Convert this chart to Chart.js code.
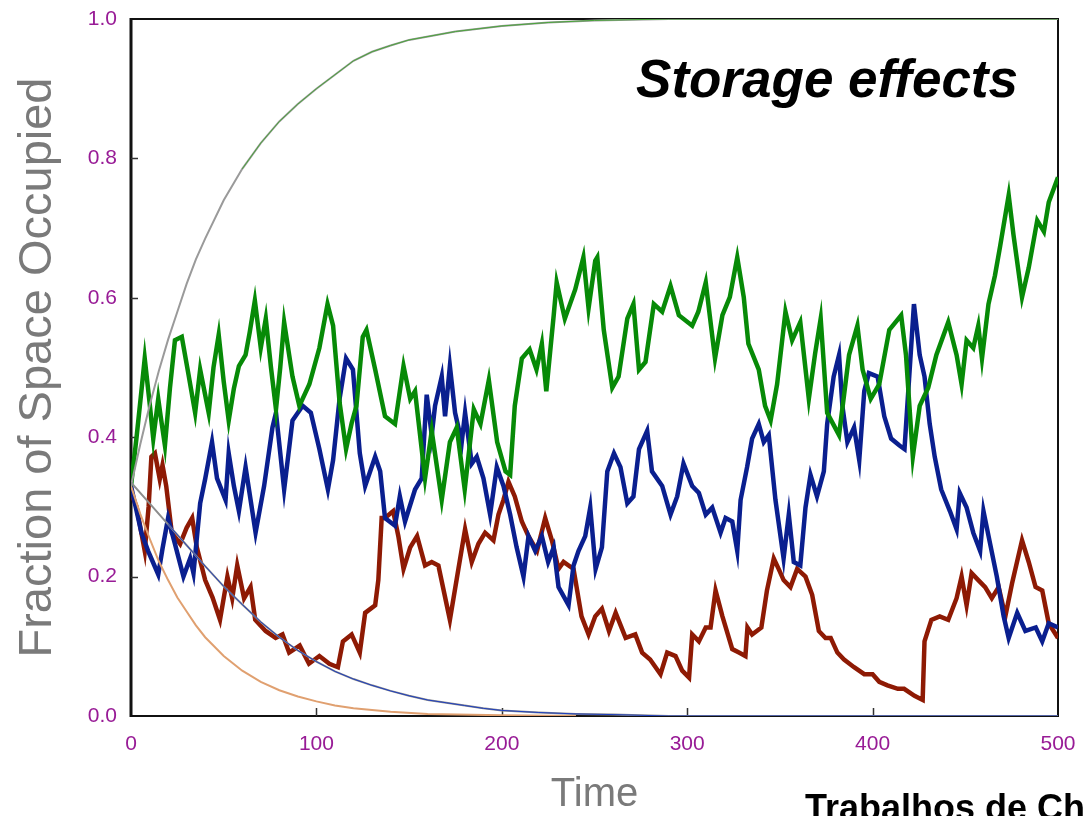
<!DOCTYPE html>
<html>
<head>
<meta charset="utf-8">
<script src="https://cdn.jsdelivr.net/npm/chart.js@4.4.1/dist/chart.umd.min.js"></script>
<style>
html, body { margin: 0; padding: 0; background: #fff; overflow: hidden; }
</style>
</head>
<body>
<canvas id="storageChart" width="1083" height="816"></canvas>
<script>
// axis ticks
const xTicks = [0, 100, 200, 300, 400, 500];
const yTicks = [0, 0.2, 0.4, 0.6, 0.8, 1.0];

// stochastic runs (time, fraction)
const greenT = [0, 3, 5.6, 7.4, 10, 12, 14.7, 16, 18.3, 21, 23.7, 27.4, 31, 34.6, 37.3, 41.9, 44.5, 47.3, 50, 52.7, 55.5, 58.2, 61.8, 64, 66.8, 70, 72.7, 75.5, 78.2, 80.5, 82.6, 87.1, 90.8, 96.2, 101.6, 106, 109, 112.5, 116, 119, 121.6, 125, 127, 131.7, 137, 142.4, 147, 150.6, 153.2, 158.6, 162.2, 167.6, 172, 175.7, 180, 184.9, 188.5, 193, 197.5, 202, 204.5, 207, 210.8, 215, 218.7, 221.6, 224, 228, 229.6, 234, 239.6, 244, 246.8, 250.4, 251.5, 255, 259.6, 263, 267.7, 271, 274, 277.5, 282, 286.5, 291, 295.5, 302.7, 306, 310, 315, 319, 323, 327, 330.5, 333, 338.6, 342, 345, 348.5, 353, 356.6, 361, 365.6, 369, 372, 375.5, 381.9, 387.3, 391.8, 394.6, 399, 403.6, 409, 415.4, 418, 421.7, 425.4, 430, 434.4, 440.8, 445.3, 448, 450.7, 454.3, 457, 459, 462.5, 466, 468.8, 473.4, 476, 480.6, 484.2, 488.8, 492.4, 495, 500];
const greenV = [0.33, 0.40, 0.466, 0.513, 0.45, 0.398, 0.455, 0.43, 0.388, 0.47, 0.539, 0.544, 0.49, 0.435, 0.497, 0.435, 0.5, 0.547, 0.48, 0.424, 0.47, 0.502, 0.518, 0.55, 0.596, 0.528, 0.57, 0.5, 0.44, 0.5, 0.565, 0.487, 0.445, 0.476, 0.528, 0.591, 0.56, 0.45, 0.383, 0.42, 0.445, 0.544, 0.554, 0.497, 0.43, 0.419, 0.502, 0.455, 0.466, 0.341, 0.409, 0.31, 0.393, 0.414, 0.325, 0.44, 0.419, 0.482, 0.393, 0.351, 0.346, 0.445, 0.513, 0.526, 0.497, 0.534, 0.466, 0.575, 0.622, 0.57, 0.612, 0.658, 0.585, 0.653, 0.658, 0.554, 0.471, 0.487, 0.57, 0.591, 0.497, 0.508, 0.591, 0.58, 0.617, 0.575, 0.56, 0.58, 0.622, 0.513, 0.575, 0.601, 0.658, 0.601, 0.534, 0.497, 0.445, 0.424, 0.476, 0.58, 0.539, 0.565, 0.455, 0.52, 0.57, 0.435, 0.403, 0.518, 0.56, 0.497, 0.455, 0.476, 0.554, 0.575, 0.518, 0.372, 0.445, 0.471, 0.518, 0.565, 0.518, 0.476, 0.539, 0.528, 0.56, 0.513, 0.591, 0.632, 0.674, 0.747, 0.69, 0.601, 0.643, 0.711, 0.695, 0.737, 0.773];

const blueT = [0, 5.6, 9.2, 14.7, 17, 20, 23.7, 28.3, 31.9, 33.7, 37.3, 40, 43.7, 46.4, 51, 52.7, 55.5, 58.2, 61.8, 64.5, 67.2, 71.8, 76.3, 78.2, 82.6, 87.1, 92.6, 97, 101.6, 106.2, 109, 112.5, 116, 119.7, 123.4, 126.3, 131.7, 134.4, 137, 142.4, 145, 147.8, 153.2, 156.8, 159.5, 162.2, 164, 167.6, 169.4, 172, 174.8, 178.4, 180.2, 183.8, 186.5, 190.1, 193.7, 197.3, 200.9, 204.5, 208, 211.7, 214.4, 218, 221.6, 225, 228, 230.6, 236, 238.7, 241.4, 245, 247.7, 250.6, 254, 256.9, 260.5, 264, 267.7, 271, 274, 278.4, 281, 286.5, 291, 294.6, 298, 302.7, 306.3, 310, 313.5, 318, 320.7, 324.3, 327, 328.8, 332.3, 335, 338.6, 341.3, 344, 347.6, 352, 354.8, 357.5, 361, 363.8, 366.5, 370, 373.7, 375.5, 379, 381.9, 383.7, 386.4, 390, 392.8, 395.5, 398, 402.7, 406.3, 410, 414.5, 417.2, 420, 422.3, 425.4, 428, 430.8, 433.5, 437, 441.7, 445.3, 447, 450.7, 454.3, 458, 459.8, 463.4, 467, 470.7, 473.4, 478, 482.4, 488, 491.5, 495, 500];
const blueV = [0.33, 0.263, 0.237, 0.203, 0.24, 0.284, 0.247, 0.2, 0.226, 0.205, 0.305, 0.34, 0.393, 0.341, 0.31, 0.377, 0.33, 0.294, 0.357, 0.31, 0.263, 0.33, 0.414, 0.435, 0.325, 0.424, 0.445, 0.435, 0.383, 0.325, 0.367, 0.455, 0.513, 0.497, 0.377, 0.33, 0.372, 0.351, 0.284, 0.273, 0.315, 0.279, 0.325, 0.341, 0.461, 0.403, 0.445, 0.487, 0.43, 0.502, 0.435, 0.393, 0.435, 0.362, 0.372, 0.341, 0.289, 0.357, 0.33, 0.289, 0.242, 0.2, 0.258, 0.237, 0.258, 0.221, 0.242, 0.185, 0.159, 0.216, 0.237, 0.258, 0.299, 0.211, 0.242, 0.351, 0.377, 0.357, 0.305, 0.315, 0.383, 0.409, 0.351, 0.33, 0.289, 0.315, 0.362, 0.33, 0.32, 0.289, 0.299, 0.263, 0.284, 0.279, 0.237, 0.31, 0.357, 0.398, 0.419, 0.393, 0.403, 0.31, 0.226, 0.289, 0.221, 0.216, 0.299, 0.346, 0.315, 0.351, 0.419, 0.487, 0.518, 0.445, 0.393, 0.414, 0.367, 0.466, 0.492, 0.487, 0.43, 0.398, 0.388, 0.383, 0.497, 0.591, 0.518, 0.487, 0.419, 0.372, 0.325, 0.294, 0.268, 0.32, 0.299, 0.263, 0.237, 0.294, 0.247, 0.2, 0.143, 0.112, 0.148, 0.122, 0.127, 0.107, 0.133, 0.127];

const redT = [0, 3, 7.4, 9.5, 11, 12.9, 15.5, 17, 19, 22, 26.5, 30, 33, 35.5, 40, 44, 48, 52, 54.6, 57.3, 61, 64.5, 67, 72.6, 78, 81.7, 85.3, 91, 96, 101.6, 107, 111.6, 114.3, 119, 123.4, 126.3, 131.7, 133.4, 135.2, 137, 141.4, 144.2, 147, 150.6, 154.3, 158.6, 162.2, 165.8, 172, 176.6, 180.2, 183.8, 187.4, 191, 195.5, 198.2, 200.9, 203.6, 207, 210.8, 214.4, 219, 223.4, 227, 230.6, 233.3, 238.7, 243, 246.8, 250.4, 254, 257.8, 261.4, 266.8, 272, 275.7, 280, 285.6, 289.2, 293.7, 297.3, 301, 302.7, 306.3, 310, 312.6, 315.3, 319, 324.3, 327.9, 331.4, 332.5, 335, 340, 343, 346.7, 349.5, 352, 355.7, 359.3, 363.8, 367.4, 371, 374.6, 377.4, 381, 384.6, 390, 395.5, 400, 403.6, 408, 413.6, 417, 422.6, 427, 428, 431.7, 436.2, 440.8, 445.3, 448, 450.7, 453.4, 457, 460.7, 464.3, 468, 471.6, 475.2, 480.6, 484.2, 487.9, 491.5, 495, 500];
const redV = [0.32, 0.3, 0.237, 0.3, 0.372, 0.377, 0.34, 0.36, 0.33, 0.263, 0.247, 0.27, 0.284, 0.242, 0.195, 0.17, 0.138, 0.2, 0.169, 0.216, 0.169, 0.185, 0.138, 0.122, 0.112, 0.117, 0.091, 0.101, 0.075, 0.086, 0.075, 0.07, 0.107, 0.117, 0.091, 0.148, 0.159, 0.195, 0.284, 0.284, 0.294, 0.258, 0.211, 0.242, 0.258, 0.216, 0.221, 0.216, 0.138, 0.211, 0.268, 0.221, 0.247, 0.263, 0.252, 0.289, 0.31, 0.336, 0.315, 0.279, 0.258, 0.237, 0.284, 0.252, 0.211, 0.221, 0.211, 0.143, 0.117, 0.143, 0.154, 0.122, 0.148, 0.112, 0.117, 0.091, 0.081, 0.06, 0.091, 0.086, 0.065, 0.055, 0.117, 0.107, 0.127, 0.127, 0.18, 0.143, 0.096, 0.091, 0.086, 0.127, 0.117, 0.127, 0.18, 0.226, 0.21, 0.195, 0.185, 0.211, 0.2, 0.174, 0.122, 0.112, 0.112, 0.091, 0.081, 0.07, 0.06, 0.06, 0.049, 0.044, 0.039, 0.039, 0.029, 0.023, 0.107, 0.138, 0.143, 0.138, 0.169, 0.2, 0.159, 0.205, 0.195, 0.185, 0.169, 0.185, 0.143, 0.19, 0.252, 0.221, 0.185, 0.18, 0.133, 0.112];

// deterministic curves
const riseT = [0, 5, 10, 15, 20, 25, 30, 35, 40, 50, 60, 70, 80, 90, 100, 110, 120, 130, 140, 150, 175, 200, 225, 250, 290, 500];
const riseV = [0.33, 0.39, 0.445, 0.495, 0.54, 0.58, 0.62, 0.655, 0.685, 0.74, 0.785, 0.822, 0.853, 0.878, 0.9, 0.92, 0.94, 0.953, 0.962, 0.97, 0.982, 0.99, 0.995, 0.998, 1.0, 1.0];
const decayT = [0, 10, 20, 30, 40, 50, 60, 70, 80, 90, 100, 110, 120, 130, 140, 150, 160, 170, 180, 190, 200, 220, 240, 260, 290, 500];
const decayV = [0.335, 0.305, 0.275, 0.245, 0.215, 0.186, 0.16, 0.135, 0.113, 0.094, 0.078, 0.064, 0.053, 0.044, 0.036, 0.029, 0.023, 0.019, 0.015, 0.011, 0.008, 0.005, 0.003, 0.002, 0, 0];
const fastT = [0, 5, 10, 15, 20, 25, 30, 35, 40, 50, 60, 70, 80, 90, 100, 110, 120, 140, 160, 200, 240];
const fastV = [0.33, 0.29, 0.255, 0.222, 0.195, 0.17, 0.15, 0.13, 0.113, 0.086, 0.065, 0.049, 0.037, 0.028, 0.021, 0.015, 0.011, 0.006, 0.003, 0.001, 0];

const pts = (ts, vs) => ts.map((t, i) => ({ x: t, y: vs[i] }));
const fromT = (ts, vs, t0) => pts(ts, vs).filter(p => p.x >= t0);

const line = (data, color, width) => ({
    data: data,
    borderColor: color,
    borderWidth: width,
    pointRadius: 0,
    tension: 0,
    fill: false
});

// keep the frame where the picture has it, whatever the tick labels need
const noEdgePadding = s => {
    s.paddingTop = 0;
    s.paddingBottom = 0;
    s.paddingLeft = 0;
    s.paddingRight = 0;
};

const framePlugin = {
    id: 'frame',
    beforeDatasetsDraw(chart) {
        const { ctx, chartArea: a, scales } = chart;
        ctx.save();
        ctx.strokeStyle = '#111';
        ctx.lineWidth = 2;
        ctx.strokeRect(a.left, a.top, a.right - a.left, a.bottom - a.top);
        ctx.lineWidth = 3;
        ctx.beginPath();
        ctx.moveTo(a.left, a.top - 1);
        ctx.lineTo(a.left, a.bottom + 1);
        ctx.stroke();
        ctx.lineWidth = 1.5;
        ctx.strokeStyle = '#333';
        ctx.beginPath();
        xTicks.slice(1, -1).forEach(v => {
            const px = Math.round(scales.x.getPixelForValue(v)) + 0.5;
            ctx.moveTo(px, a.bottom);
            ctx.lineTo(px, a.bottom - 8);
        });
        yTicks.slice(1, -1).forEach(v => {
            const py = Math.round(scales.y.getPixelForValue(v)) + 0.5;
            ctx.moveTo(a.left, py);
            ctx.lineTo(a.left + 7, py);
        });
        ctx.stroke();
        ctx.restore();
    },
    afterDraw(chart) {
        const ctx = chart.ctx;
        ctx.save();
        ctx.fillStyle = '#000';
        ctx.textAlign = 'right';
        ctx.textBaseline = 'alphabetic';
        ctx.font = 'italic bold 53px "Liberation Sans", Arial, sans-serif';
        ctx.fillText('Storage effects', 1018, 97);
        ctx.textAlign = 'left';
        ctx.font = 'bold 36px "Liberation Sans", Arial, sans-serif';
        ctx.fillText('Trabalhos de Ch', 805, 820);
        ctx.restore();
    }
};

const ctxStorage = document.getElementById('storageChart').getContext('2d');
const storageChart = new Chart(ctxStorage, {
    type: 'line',
    data: {
        datasets: [
            line(fromT(decayT, decayV, 20), '#1f3fbf', 1),
            line(pts(decayT, decayV), '#8c8c8c', 2),
            line(fromT(riseT, riseV, 60), '#4aa63a', 1),
            line(pts(riseT, riseV), '#9a9a9a', 2),
            line(pts(fastT, fastV), '#e0a070', 2),
            line(pts(greenT, greenV), '#078a07', 4.5),
            line(pts(blueT, blueV), '#0a1f8f', 4.5),
            line(pts(redT, redV), '#8e1a04', 4.5)
        ]
    },
    options: {
        responsive: false,
        animation: false,
        layout: {
            autoPadding: false,
            padding: { top: 19, right: 25, bottom: 0, left: 0 }
        },
        plugins: {
            legend: { display: false },
            tooltip: { enabled: false }
        },
        scales: {
            x: {
                type: 'linear',
                min: 0,
                max: 500,
                afterFit: s => { s.height = 100; noEdgePadding(s); },
                afterBuildTicks: s => { s.ticks = xTicks.map(v => ({ value: v })); },
                grid: { display: false, drawTicks: false },
                border: { display: false },
                ticks: {
                    padding: 16,
                    color: '#981b96',
                    maxRotation: 0,
                    font: { family: '"Liberation Sans", Arial, sans-serif', size: 21 }
                },
                title: {
                    display: true,
                    text: 'Time',
                    color: '#7a7a7a',
                    padding: { top: 0, bottom: 0 },
                    font: { family: '"Liberation Sans", Arial, sans-serif', size: 40, lineHeight: 1.05 }
                }
            },
            y: {
                min: 0,
                max: 1,
                afterFit: s => { s.width = 131; noEdgePadding(s); },
                afterBuildTicks: s => { s.ticks = yTicks.map(v => ({ value: v })); },
                grid: { display: false, drawTicks: false },
                border: { display: false },
                ticks: {
                    padding: 14,
                    color: '#981b96',
                    callback: v => v.toFixed(1),
                    font: { family: '"Liberation Sans", Arial, sans-serif', size: 21 }
                },
                title: {
                    display: true,
                    text: 'Fraction of Space Occupied',
                    color: '#7a7a7a',
                    padding: { top: 15, bottom: 0 },
                    font: { family: '"Liberation Sans", Arial, sans-serif', size: 47, lineHeight: 1 }
                }
            }
        }
    },
    plugins: [framePlugin]
});
</script>
</body>
</html>
